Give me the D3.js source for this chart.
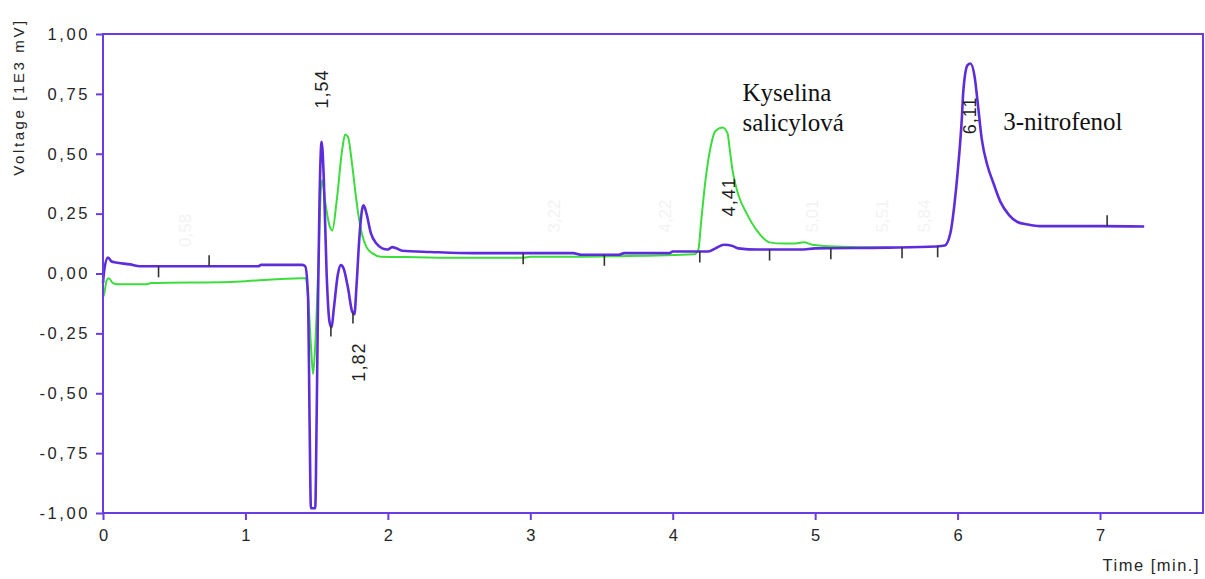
<!DOCTYPE html>
<html>
<head>
<meta charset="utf-8">
<script src="https://cdn.jsdelivr.net/npm/d3@7"></script>
<style>
  html, body { margin: 0; padding: 0; background: #fff; }
  svg { display: block; }
</style>
</head>
<body>
<svg id="chart" width="1205" height="579"></svg>
<script>
// Chromatogram: two detector traces, voltage [1E3 mV] against time [min.]

// Violet trace (time, voltage)
const violetTime = [0.00, 0.01, 0.035, 0.06, 0.09, 0.19, 0.26, 0.75, 1.09, 1.11, 1.40, 1.42, 1.44, 1.45, 1.46, 1.49, 1.50, 1.51, 1.52, 1.535, 1.55, 1.57, 1.59, 1.605, 1.62, 1.65, 1.67, 1.69, 1.72, 1.75, 1.765, 1.78, 1.80, 1.82, 1.83, 1.85, 1.88, 1.92, 1.96, 2.00, 2.03, 2.06, 2.10, 2.30, 2.60, 3.00, 3.30, 3.36, 3.62, 3.66, 3.98, 4.00, 4.25, 4.30, 4.36, 4.42, 4.46, 4.60, 4.90, 5.00, 5.50, 5.85, 5.91, 5.95, 5.98, 6.00, 6.03, 6.04, 6.07, 6.09, 6.12, 6.14, 6.17, 6.21, 6.25, 6.30, 6.36, 6.42, 6.49, 6.58, 7.00, 7.31];
const violetValue = [-0.04, 0.02, 0.067, 0.05, 0.046, 0.038, 0.03, 0.03, 0.03, 0.036, 0.036, 0.03, -0.10, -0.60, -0.98, -0.98, -0.60, -0.10, 0.30, 0.55, 0.40, 0.00, -0.20, -0.225, -0.15, 0.00, 0.035, 0.02, -0.06, -0.16, -0.17, -0.05, 0.15, 0.27, 0.285, 0.25, 0.17, 0.125, 0.105, 0.10, 0.11, 0.105, 0.095, 0.09, 0.085, 0.085, 0.085, 0.078, 0.078, 0.085, 0.085, 0.092, 0.092, 0.105, 0.12, 0.115, 0.105, 0.10, 0.10, 0.105, 0.108, 0.113, 0.117, 0.17, 0.30, 0.42, 0.65, 0.76, 0.87, 0.877, 0.82, 0.72, 0.56, 0.45, 0.38, 0.30, 0.245, 0.215, 0.205, 0.198, 0.198, 0.196];

// Green trace (time, voltage)
const greenTime = [0.00, 0.01, 0.025, 0.04, 0.07, 0.10, 0.30, 0.34, 0.90, 1.00, 1.40, 1.42, 1.44, 1.46, 1.475, 1.49, 1.51, 1.53, 1.54, 1.56, 1.59, 1.61, 1.64, 1.68, 1.70, 1.72, 1.75, 1.78, 1.80, 1.82, 1.85, 1.89, 1.95, 2.20, 2.50, 2.95, 3.00, 3.30, 3.60, 4.15, 4.18, 4.20, 4.23, 4.27, 4.30, 4.35, 4.385, 4.40, 4.42, 4.46, 4.52, 4.59, 4.68, 4.78, 4.85, 4.92, 4.98, 5.06, 5.30, 5.50];
const greenValue = [-0.10, -0.08, -0.03, -0.02, -0.04, -0.045, -0.045, -0.04, -0.035, -0.032, -0.02, -0.02, -0.10, -0.30, -0.42, -0.30, 0.00, 0.35, 0.39, 0.30, 0.20, 0.18, 0.30, 0.52, 0.58, 0.57, 0.45, 0.30, 0.22, 0.16, 0.11, 0.085, 0.07, 0.068, 0.066, 0.066, 0.07, 0.07, 0.072, 0.08, 0.10, 0.22, 0.39, 0.54, 0.595, 0.61, 0.585, 0.52, 0.43, 0.33, 0.25, 0.18, 0.13, 0.125, 0.125, 0.13, 0.12, 0.115, 0.11, 0.108];

// Integration marks on the violet trace: time and side (1 = up, -1 = down)
const markTime = [0.39, 0.745, 1.60, 1.755, 2.95, 3.52, 4.19, 4.68, 5.11, 5.61, 5.86, 7.05];
const markSide = [-1, 1, -1, -1, -1, -1, -1, -1, -1, -1, -1, 1];

// Retention-time labels
const peakLabel = ["1,54", "1,82", "4,41", "6,11"];
const peakLabelTime = [1.535, 1.80, 4.395, 6.085];
const peakLabelValue = [0.77, -0.37, 0.32, 0.66];

// Faded retention-time labels
const fadedLabel = ["0,58", "3,22", "4,22", "5,01", "5,51", "5,84"];
const fadedLabelTime = [0.58, 3.17, 3.95, 4.98, 5.47, 5.77];
const fadedLabelValue = [0.18, 0.24, 0.24, 0.24, 0.24, 0.24];

// Compound names
const compoundLines = [["Kyselina", "salicylová"], ["3-nitrofenol"]];
const compoundTime = [4.49, 6.32];
const compoundValue = [0.72, 0.60];

// Axis ticks
const xTicks = [0, 1, 2, 3, 4, 5, 6, 7];
const yTicks = [-1, -0.75, -0.5, -0.25, 0, 0.25, 0.5, 0.75, 1];

const violet = "#5d2ddc";
const frameColor = "#6a3ce4";
const green = "#3ddc3d";
const textColor = "#262626";

const svg = d3.select("#chart");
const plotLeft = 103, plotRight = 1203, plotTop = 34, plotBottom = 513;

const x = d3.scaleLinear().domain([0, 7.723]).range([plotLeft, plotRight]);
const y = d3.scaleLinear().domain([-1, 1]).range([plotBottom, plotTop]);

const locale = d3.formatLocale({ decimal: ",", thousands: " ", grouping: [3], currency: ["", ""], minus: "-" });
const fmt2 = locale.format(".2f");

// Y axis
const yAxis = svg.append("g")
  .attr("transform", `translate(${plotLeft},0)`)
  .call(d3.axisLeft(y).tickValues(yTicks).tickFormat(fmt2).tickSize(7).tickPadding(6));
yAxis.select(".domain").remove();
yAxis.selectAll(".tick line").attr("stroke", frameColor).attr("stroke-width", 2);
yAxis.selectAll(".tick text")
  .attr("fill", textColor)
  .style("font-family", "'Liberation Sans', Arial, sans-serif")
  .style("font-size", "16.5px")
  .style("letter-spacing", "2.6px");

// X axis
const xAxis = svg.append("g")
  .attr("transform", `translate(0,${plotBottom})`)
  .call(d3.axisBottom(x).tickValues(xTicks).tickFormat(d3.format("d")).tickSize(7).tickPadding(9));
xAxis.select(".domain").remove();
xAxis.selectAll(".tick line").attr("stroke", frameColor).attr("stroke-width", 2);
xAxis.selectAll(".tick text")
  .attr("fill", textColor)
  .style("font-family", "'Liberation Sans', Arial, sans-serif")
  .style("font-size", "16.5px");

// Axis titles
svg.append("text")
  .attr("transform", "translate(24,97) rotate(-90)")
  .attr("text-anchor", "middle")
  .attr("fill", textColor)
  .style("font-family", "'Liberation Sans', Arial, sans-serif")
  .style("font-size", "15px")
  .style("letter-spacing", "2.6px")
  .text("Voltage [1E3 mV]");

svg.append("text")
  .attr("x", 1200).attr("y", 571)
  .attr("text-anchor", "end")
  .attr("fill", textColor)
  .style("font-family", "'Liberation Sans', Arial, sans-serif")
  .style("font-size", "16.5px")
  .style("letter-spacing", "1.5px")
  .text("Time [min.]");

// Faded labels
fadedLabel.forEach((t, i) => {
  svg.append("text")
    .attr("transform", `translate(${x(fadedLabelTime[i])},${y(fadedLabelValue[i])}) rotate(-90)`)
    .attr("text-anchor", "middle")
    .attr("dominant-baseline", "central")
    .attr("fill", "#f3f3f3")
    .style("font-family", "'Liberation Sans', Arial, sans-serif")
    .style("font-size", "17px")
    .text(t);
});

// Traces
const line = d3.line().x(d => x(d[0])).y(d => y(d[1])).curve(d3.curveMonotoneX);
const greenData = greenTime.map((t, i) => [t, greenValue[i]]);
const violetData = violetTime.map((t, i) => [t, violetValue[i]]);

svg.append("path").datum(greenData)
  .attr("d", line).attr("fill", "none")
  .attr("stroke", green).attr("stroke-width", 2).attr("stroke-linejoin", "round");

svg.append("path").datum(violetData)
  .attr("d", line).attr("fill", "none")
  .attr("stroke", violet).attr("stroke-width", 2.6).attr("stroke-linejoin", "round");

// Integration marks
const interp = t => {
  const i = d3.bisectRight(violetTime, t);
  if (i <= 0) return violetValue[0];
  if (i >= violetTime.length) return violetValue[violetTime.length - 1];
  const t0 = violetTime[i - 1], t1 = violetTime[i];
  const f = (t - t0) / (t1 - t0);
  return violetValue[i - 1] + f * (violetValue[i] - violetValue[i - 1]);
};
markTime.forEach((t, i) => {
  const py = y(interp(t));
  svg.append("line")
    .attr("x1", x(t)).attr("x2", x(t))
    .attr("y1", py).attr("y2", py - markSide[i] * 11)
    .attr("stroke", "#333").attr("stroke-width", 1.6);
});

// Retention-time labels
peakLabel.forEach((t, i) => {
  svg.append("text")
    .attr("transform", `translate(${x(peakLabelTime[i])},${y(peakLabelValue[i])}) rotate(-90)`)
    .attr("text-anchor", "middle")
    .attr("dominant-baseline", "central")
    .attr("fill", "#1e1e1e")
    .style("font-family", "'Liberation Sans', Arial, sans-serif")
    .style("font-size", "18px")
    .style("letter-spacing", "1px")
    .text(t);
});

// Compound names
compoundLines.forEach((lines, i) => {
  const tx = svg.append("text")
    .attr("x", x(compoundTime[i]))
    .attr("y", y(compoundValue[i]))
    .attr("fill", "#111")
    .style("font-family", "'Liberation Serif', 'Times New Roman', serif")
    .style("font-size", "25px");
  lines.forEach((s, j) => {
    tx.append("tspan").attr("x", x(compoundTime[i])).attr("dy", j === 0 ? 0 : 30).text(s);
  });
});

// Plot frame
svg.append("rect")
  .attr("x", plotLeft).attr("y", plotTop)
  .attr("width", plotRight - plotLeft).attr("height", plotBottom - plotTop)
  .attr("fill", "none").attr("stroke", frameColor).attr("stroke-width", 2);
</script>
</body>
</html>
